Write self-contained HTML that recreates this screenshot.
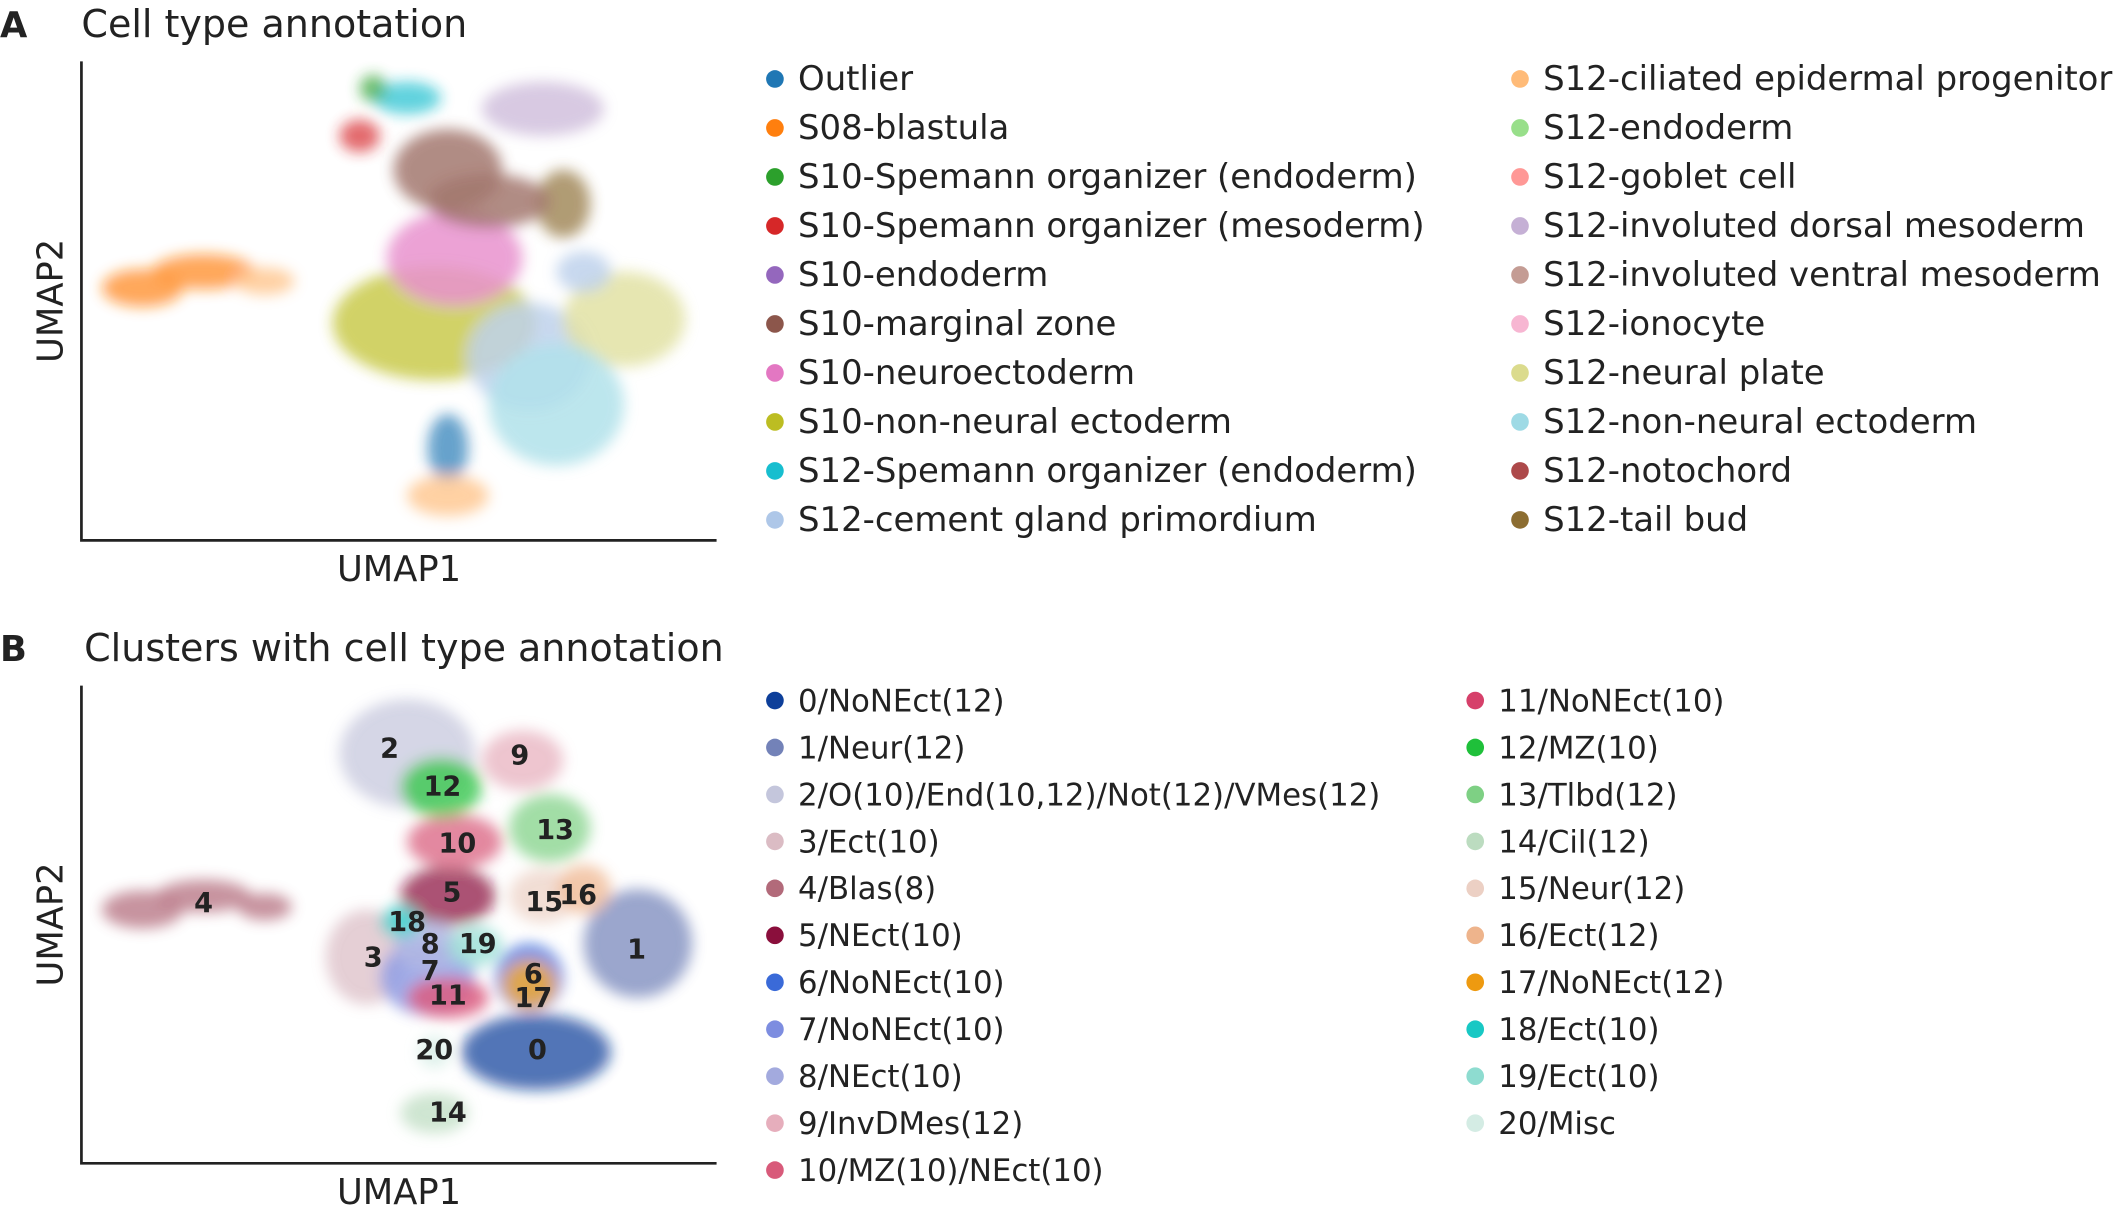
<!DOCTYPE html>
<html><head><meta charset="utf-8"><style>
html,body{margin:0;padding:0;background:#fff;}
svg{display:block;}
text{font-family:"DejaVu Sans","Liberation Sans",sans-serif;fill:#222;}
</style></head><body>
<svg id="fig" width="2128" height="1207" viewBox="0 0 1568 889" xmlns="http://www.w3.org/2000/svg">
<defs><filter id="blur" x="-50%" y="-50%" width="200%" height="200%"><feGaussianBlur stdDeviation="5"/></filter></defs>
<g id="panelA"></g>
<g id="panelB"></g>
</svg>
<script>
// ---- Panel A data (UMAP units, origin at axis corner) ----
const labelsA1 = ["Outlier","S08-blastula","S10-Spemann organizer (endoderm)","S10-Spemann organizer (mesoderm)","S10-endoderm","S10-marginal zone","S10-neuroectoderm","S10-non-neural ectoderm","S12-Spemann organizer (endoderm)","S12-cement gland primordium"];
const colorsA1 = ["#1f77b4","#ff7f0e","#2ca02c","#d62728","#9467bd","#8c564b","#e377c2","#bcbd22","#17becf","#aec7e8"];
const labelsA2 = ["S12-ciliated epidermal progenitor","S12-endoderm","S12-goblet cell","S12-involuted dorsal mesoderm","S12-involuted ventral mesoderm","S12-ionocyte","S12-neural plate","S12-non-neural ectoderm","S12-notochord","S12-tail bud"];
const colorsA2 = ["#ffbb78","#98df8a","#ff9896","#c5b0d5","#c49c94","#f7b6d2","#dbdb8d","#9edae5","#ad494a","#8c6d31"];
const blobAx = [45,90,135,260,330,275,270,340,400,350,370,270,270,240,205,355,215,300];
const blobAy = [186,198,191,160,135,208,273,318,163,100,198,68,33,326,298,248,333,250];
const blobArx= [30,38,22,75,45,50,40,45,45,50,20,15,30,25,15,20,10,45];
const blobAry= [14,13,10,42,40,35,30,20,35,45,15,25,15,12,12,25,10,20];
const blobAc = ["#ff7f0e","#ff7f0e","#ffbb78","#bcbd22","#aec7e8","#e377c2","#8c564b","#c5b0d5","#dbdb8d","#9edae5","#aec7e8","#1f77b4","#ffbb78","#17becf","#d62728","#8c6d31","#2ca02c","#8c564b"];
// ---- Panel B data ----
const labelsB1 = ["0/NoNEct(12)","1/Neur(12)","2/O(10)/End(10,12)/Not(12)/VMes(12)","3/Ect(10)","4/Blas(8)","5/NEct(10)","6/NoNEct(10)","7/NoNEct(10)","8/NEct(10)","9/InvDMes(12)","10/MZ(10)/NEct(10)"];
const colorsB1 = ["#0d3f9a","#7382b8","#c4c6dc","#dbbcc4","#b26a7a","#8a0f3c","#3a6ad8","#7d8de0","#a3aade","#e6aebc","#d85a7a"];
const labelsB2 = ["11/NoNEct(10)","12/MZ(10)","13/Tlbd(12)","14/Cil(12)","15/Neur(12)","16/Ect(12)","17/NoNEct(12)","18/Ect(10)","19/Ect(10)","20/Misc"];
const colorsB2 = ["#d6406a","#1fc03a","#7ed084","#bcdcc0","#ecd0c4","#eeb48c","#ee9a10","#18c8c4","#8edcd0","#d4ece4"];
const clusterId = [0,1,2,3,4,4,4,5,6,7,8,9,10,11,12,13,14,15,16,17,18,19,20];
const clusterX  = [335,410,240,210,45,90,135,270,330,255,255,325,275,270,265,345,260,340,370,330,235,290,260];
const clusterY  = [82,162,302,152,187,197,189,197,137,137,160,297,237,122,277,247,37,197,202,132,178,160,82];
const clusterRx = [55,40,50,30,30,35,20,35,25,35,25,30,35,30,30,30,25,25,20,20,15,20,12];
const clusterRy = [28,40,40,35,14,12,10,22,25,28,18,22,20,15,22,25,15,20,18,18,12,15,12];
const lblId = ["0","1","2","3","4","5","6","7","8","9","10","11","12","13","14","15","16","17","18","19","20"];
const lblX  = [336,409,227,215,90,273,333,257,257,323,277,270,266,349,270,341,366,333,240,292,260];
const lblY  = [84,158,306,152,192,200,140,142,162,301,236,124,278,246,38,193,198,122,178,162,84];

const NS="http://www.w3.org/2000/svg";
function mk(tag,attrs,parent,txt){const e=document.createElementNS(NS,tag);for(const k in attrs)e.setAttribute(k,attrs[k]);if(txt!==undefined)e.textContent=txt;parent.appendChild(e);return e;}

function panel(g,ox,oy,h,letter,title,titleX,legendCols,rowStep,fs){
  const sx=u=>ox+u, sy=v=>oy-v;
  const l=mk("text",{x:0,y:oy-h-18,"font-size":26,"font-weight":"bold"},g,letter);
  
  
  const t=mk("text",{x:titleX,y:oy-h-18,"font-size":28},g,title);
  
  
  const ax=mk("path",{d:`M${ox} ${oy-h}V${oy}H${ox+468}`,stroke:"#222","stroke-width":2,fill:"none"},g);
  
  
  const x1=mk("text",{x:ox+234,y:oy+30,"font-size":26,"text-anchor":"middle"},g,"UMAP1");
  
  
  const y1=mk("text",{x:0,y:0,"font-size":26,"text-anchor":"middle",transform:`translate(${ox-14},${oy-h/2}) rotate(-90)`},g,"UMAP2");
  
  
  legendCols.forEach(c=>{
    c.labels.forEach((lab,i)=>{
      const y=c.y0+i*rowStep;
      const d=mk("circle",{cx:c.x,cy:y,r:6.5,fill:c.colors[i]},g);
      
      
      const tx=mk("text",{x:c.x+17,y:y+8,"font-size":fs},g,lab);
      
      
    });
  });
  return {sx,sy};
}

const gA=document.getElementById("panelA");
const A=panel(gA,60,398,353,"A","Cell type annotation",60,
 [{x:571,y0:58,labels:labelsA1,colors:colorsA1},{x:1120,y0:58,labels:labelsA2,colors:colorsA2}],36.1,25);
const cloudA=mk("g",{filter:"url(#blur)",opacity:0.8},gA);


blobAx.forEach((x,i)=>{
  const e=mk("ellipse",{cx:A.sx(x),cy:A.sy(blobAy[i]),rx:blobArx[i],ry:blobAry[i],fill:blobAc[i],opacity:0.85},cloudA);
  
  
});

const gB=document.getElementById("panelB");
const B=panel(gB,60,857,352,"B","Clusters with cell type annotation",62,
 [{x:571,y0:516,labels:labelsB1,colors:colorsB1},{x:1087,y0:516,labels:labelsB2,colors:colorsB2}],34.6,22.7);
const allB=colorsB1.concat(colorsB2);
const cloudB=mk("g",{filter:"url(#blur)",opacity:0.85},gB);


clusterX.forEach((x,i)=>{
  const e=mk("ellipse",{cx:B.sx(x),cy:B.sy(clusterY[i]),rx:clusterRx[i],ry:clusterRy[i],fill:allB[clusterId[i]],opacity:0.85},cloudB);
  
  
});
lblId.forEach((s,i)=>{
  const t=mk("text",{x:B.sx(lblX[i]),y:B.sy(lblY[i])+7,"font-size":20,"font-weight":"bold","text-anchor":"middle"},gB,s);
  
  
});
</script>
</body></html>
